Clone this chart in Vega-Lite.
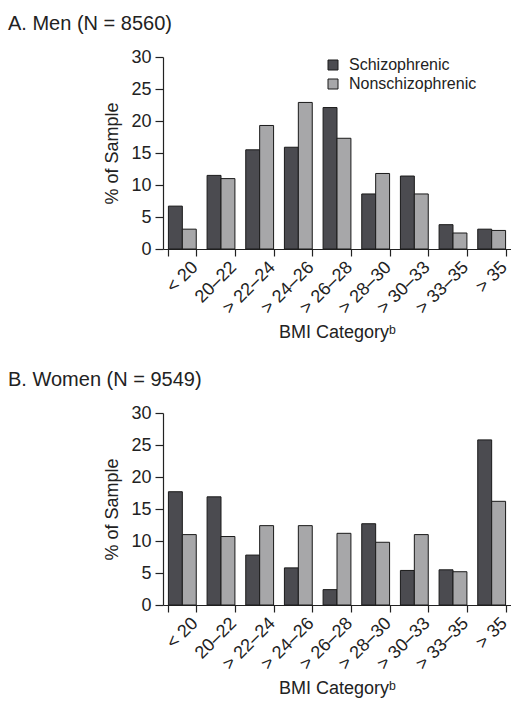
{
  "$schema": "https://vega.github.io/schema/vega-lite/v6.json",
  "autosize": {"type": "pad"},
  "padding": {"left": 8, "top": 14, "right": 0, "bottom": 0},
  "background": "white",
  "spacing": 28,
  "config": {
    "font": "Liberation Sans",
    "view": {"stroke": null},
    "axis": {
      "grid": false,
      "domainColor": "#222",
      "tickColor": "#222",
      "labelColor": "#222",
      "titleColor": "#222",
      "labelFontSize": 18,
      "titleFontSize": 18,
      "titleFontWeight": "normal",
      "domainWidth": 1.2,
      "tickWidth": 1.2
    },
    "legend": {
      "labelFontSize": 16,
      "labelColor": "#222",
      "symbolType": "square",
      "symbolSize": 100,
      "symbolStrokeColor": "#1a1a1a",
      "symbolStrokeWidth": 1,
      "symbolOpacity": 1,
      "labelOffset": 8,
      "rowPadding": 3
    },
    "title": {"fontSize": 20, "fontWeight": "normal", "anchor": "start", "color": "#222", "frame": "group"}
  },
  "datasets": {
    "men": [
      {"bmi": "< 20", "group": "Schizophrenic", "pct": 6.7},
      {"bmi": "< 20", "group": "Nonschizophrenic", "pct": 3.1},
      {"bmi": "20–22", "group": "Schizophrenic", "pct": 11.5},
      {"bmi": "20–22", "group": "Nonschizophrenic", "pct": 11.0},
      {"bmi": "> 22–24", "group": "Schizophrenic", "pct": 15.5},
      {"bmi": "> 22–24", "group": "Nonschizophrenic", "pct": 19.3},
      {"bmi": "> 24–26", "group": "Schizophrenic", "pct": 15.9},
      {"bmi": "> 24–26", "group": "Nonschizophrenic", "pct": 22.9},
      {"bmi": "> 26–28", "group": "Schizophrenic", "pct": 22.1},
      {"bmi": "> 26–28", "group": "Nonschizophrenic", "pct": 17.3},
      {"bmi": "> 28–30", "group": "Schizophrenic", "pct": 8.6},
      {"bmi": "> 28–30", "group": "Nonschizophrenic", "pct": 11.8},
      {"bmi": "> 30–33", "group": "Schizophrenic", "pct": 11.4},
      {"bmi": "> 30–33", "group": "Nonschizophrenic", "pct": 8.6},
      {"bmi": "> 33–35", "group": "Schizophrenic", "pct": 3.8},
      {"bmi": "> 33–35", "group": "Nonschizophrenic", "pct": 2.5},
      {"bmi": "> 35", "group": "Schizophrenic", "pct": 3.1},
      {"bmi": "> 35", "group": "Nonschizophrenic", "pct": 2.9}
    ],
    "women": [
      {"bmi": "< 20", "group": "Schizophrenic", "pct": 17.7},
      {"bmi": "< 20", "group": "Nonschizophrenic", "pct": 11.0},
      {"bmi": "20–22", "group": "Schizophrenic", "pct": 16.9},
      {"bmi": "20–22", "group": "Nonschizophrenic", "pct": 10.7},
      {"bmi": "> 22–24", "group": "Schizophrenic", "pct": 7.8},
      {"bmi": "> 22–24", "group": "Nonschizophrenic", "pct": 12.4},
      {"bmi": "> 24–26", "group": "Schizophrenic", "pct": 5.8},
      {"bmi": "> 24–26", "group": "Nonschizophrenic", "pct": 12.4},
      {"bmi": "> 26–28", "group": "Schizophrenic", "pct": 2.4},
      {"bmi": "> 26–28", "group": "Nonschizophrenic", "pct": 11.2},
      {"bmi": "> 28–30", "group": "Schizophrenic", "pct": 12.7},
      {"bmi": "> 28–30", "group": "Nonschizophrenic", "pct": 9.8},
      {"bmi": "> 30–33", "group": "Schizophrenic", "pct": 5.4},
      {"bmi": "> 30–33", "group": "Nonschizophrenic", "pct": 11.0},
      {"bmi": "> 33–35", "group": "Schizophrenic", "pct": 5.5},
      {"bmi": "> 33–35", "group": "Nonschizophrenic", "pct": 5.2},
      {"bmi": "> 35", "group": "Schizophrenic", "pct": 25.8},
      {"bmi": "> 35", "group": "Nonschizophrenic", "pct": 16.2}
    ]
  },
  "vconcat": [
    {
      "title": {"text": "A. Men (N = 8560)", "dx": -155, "offset": 14},
      "width": 348,
      "height": 192,
      "data": {"name": "men"},
      "mark": {"type": "bar", "stroke": "#1a1a1a", "strokeWidth": 1},
      "encoding": {
        "x": {
          "field": "bmi", "type": "nominal",
          "sort": ["< 20", "20–22", "> 22–24", "> 24–26", "> 26–28", "> 28–30", "> 30–33", "> 33–35", "> 35"],
          "scale": {"paddingInner": 0.28, "paddingOuter": 0.14},
          "axis": {"title": "BMI Categoryᵇ", "labelAngle": -45, "tickBand": "extent", "tickSize": 7, "labelPadding": 2, "titlePadding": 6, "labelOffset": 6}
        },
        "xOffset": {"field": "group", "type": "nominal", "sort": ["Schizophrenic", "Nonschizophrenic"]},
        "y": {
          "field": "pct", "type": "quantitative",
          "scale": {"domain": [0, 30]},
          "axis": {"title": "% of Sample", "values": [0, 5, 10, 15, 20, 25, 30], "tickSize": 8, "labelPadding": 4, "titlePadding": 9}
        },
        "color": {
          "field": "group", "type": "nominal",
          "scale": {"domain": ["Schizophrenic", "Nonschizophrenic"], "range": ["#4b4b50", "#a7a7a9"]},
          "legend": {"title": null, "orient": "none", "legendX": 162, "legendY": 0}
        }
      }
    },
    {
      "title": {"text": "B. Women (N = 9549)", "dx": -155, "offset": 14},
      "width": 348,
      "height": 192,
      "data": {"name": "women"},
      "mark": {"type": "bar", "stroke": "#1a1a1a", "strokeWidth": 1},
      "encoding": {
        "x": {
          "field": "bmi", "type": "nominal",
          "sort": ["< 20", "20–22", "> 22–24", "> 24–26", "> 26–28", "> 28–30", "> 30–33", "> 33–35", "> 35"],
          "scale": {"paddingInner": 0.28, "paddingOuter": 0.14},
          "axis": {"title": "BMI Categoryᵇ", "labelAngle": -45, "tickBand": "extent", "tickSize": 7, "labelPadding": 2, "titlePadding": 6, "labelOffset": 6}
        },
        "xOffset": {"field": "group", "type": "nominal", "sort": ["Schizophrenic", "Nonschizophrenic"]},
        "y": {
          "field": "pct", "type": "quantitative",
          "scale": {"domain": [0, 30]},
          "axis": {"title": "% of Sample", "values": [0, 5, 10, 15, 20, 25, 30], "tickSize": 8, "labelPadding": 4, "titlePadding": 9}
        },
        "color": {
          "field": "group", "type": "nominal",
          "scale": {"domain": ["Schizophrenic", "Nonschizophrenic"], "range": ["#4b4b50", "#a7a7a9"]},
          "legend": {"title": null, "orient": "none", "legendX": 162, "legendY": 5}
        }
      }
    }
  ]
}
